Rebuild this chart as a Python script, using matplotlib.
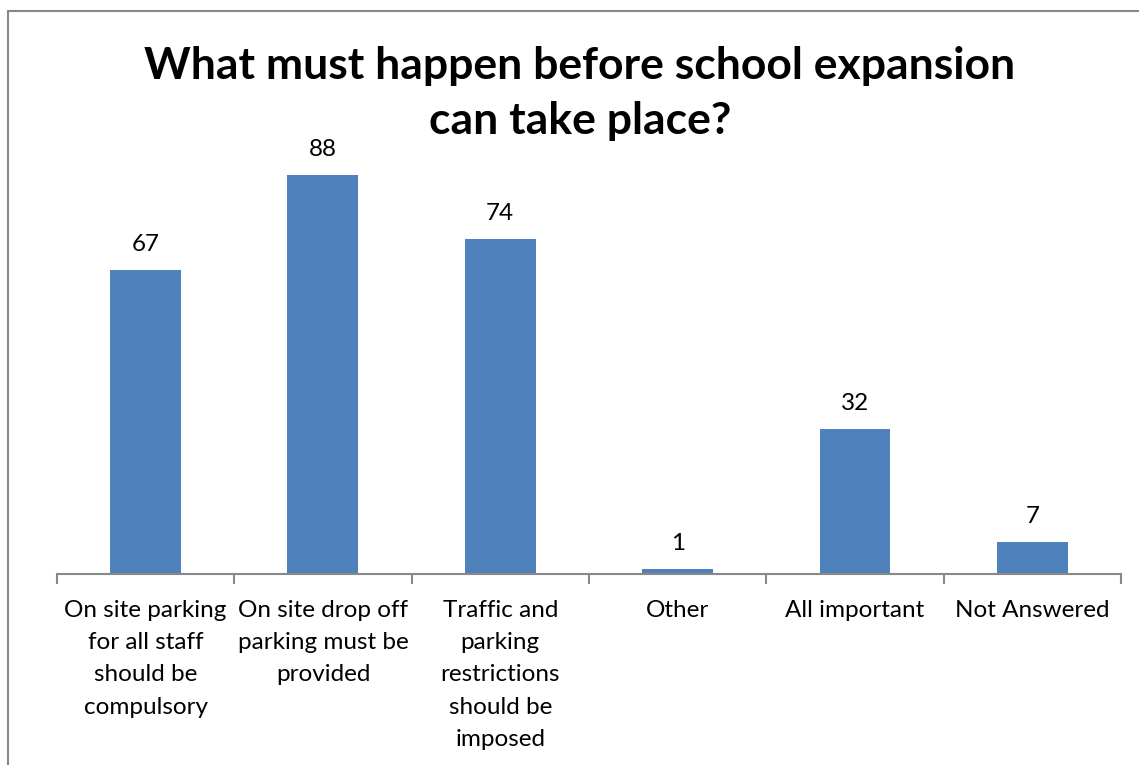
import matplotlib.pyplot as plt
import numpy as np
from matplotlib.patches import Rectangle

categories = [
    "On site parking\nfor all staff\nshould be\ncompulsory",
    "On site drop off\nparking must be\nprovided",
    "Traffic and\nparking\nrestrictions\nshould be\nimposed",
    "Other",
    "All important",
    "Not Answered",
]
counts = [67, 88, 74, 1, 32, 7]

plt.rcParams['font.family'] = ['Lato', 'DejaVu Sans']

fig = plt.figure(figsize=(11.39, 7.65), dpi=100)
ax = fig.add_axes([0.0500, 0.2497, 0.9342, 0.5921])

x = np.arange(len(categories))
bars = ax.bar(x, counts, width=0.4, color='#4F81BD', zorder=2)

for b, v in zip(bars, counts):
    ax.annotate(str(v), (b.get_x() + b.get_width() / 2, v),
                xytext=(0, 11), textcoords='offset points',
                ha='center', va='bottom', fontsize=17.5)

ax.set_xlim(-0.5, len(categories) - 0.5)
ax.set_ylim(0, 100)

# category labels at centres, tick marks on the boundaries
ax.set_xticks(x)
ax.set_xticklabels(categories, fontsize=17.5, linespacing=1.65)
ax.tick_params(axis='x', which='major', length=0, pad=19)
ax.set_xticks(np.arange(-0.5, len(categories)), minor=True)
ax.tick_params(axis='x', which='minor', length=7, width=1.5, color='#888888')

ax.set_yticks([])
for side in ['left', 'right', 'top']:
    ax.spines[side].set_visible(False)
ax.spines['bottom'].set_color('#888888')
ax.spines['bottom'].set_linewidth(1.5)

fig.text(0.509, 0.878, "What must happen before school expansion\ncan take place?",
         ha='center', va='center', fontsize=32, fontweight='bold', linespacing=1.47)

# chart frame
fig.add_artist(Rectangle((8 / 1139, -0.1), 1.2, 1.1 - 11 / 765, transform=fig.transFigure,
                         fill=False, edgecolor='#888888', linewidth=1.5))

fig.savefig('out.png', dpi=100)
